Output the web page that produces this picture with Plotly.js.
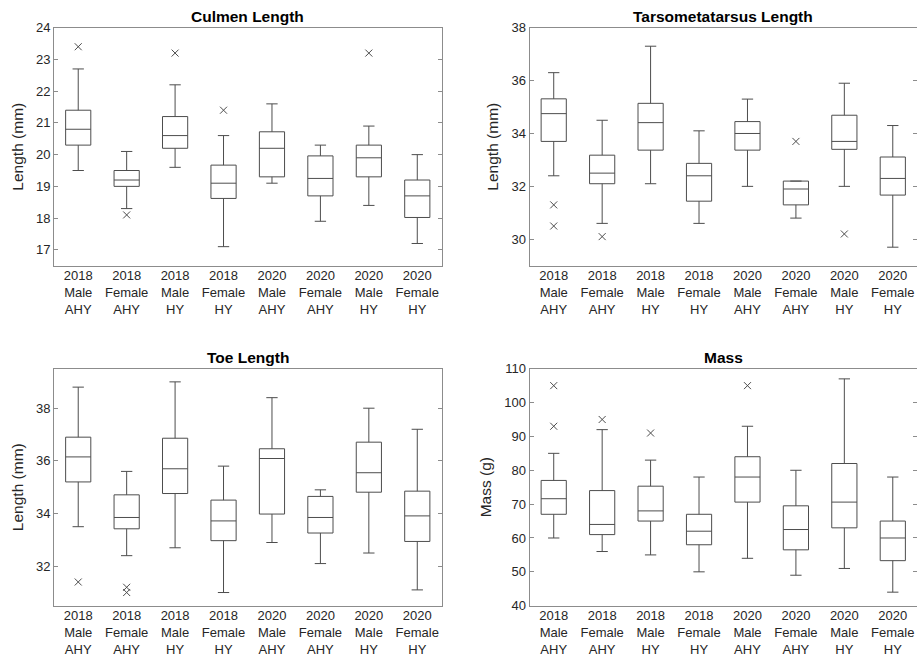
<!DOCTYPE html>
<html>
<head>
<meta charset="utf-8">
<script src="https://cdn.plot.ly/plotly-3.0.1.min.js"></script>
<style>html,body{margin:0;padding:0;background:#fff;}#chart{width:917px;height:657px;}</style>
</head>
<body>
<div id="chart"></div>
<script>
// Category labels (year / sex / age class)
const categories = [
  "2018<br>Male<br>AHY", "2018<br>Female<br>AHY", "2018<br>Male<br>HY", "2018<br>Female<br>HY",
  "2020<br>Male<br>AHY", "2020<br>Female<br>AHY", "2020<br>Male<br>HY", "2020<br>Female<br>HY"
];

// Culmen length (mm)
const culmenLower  = [19.5, 18.3, 19.6, 17.1, 19.1, 17.9, 18.4, 17.2];
const culmenQ1     = [20.3, 19.0, 20.2, 18.62, 19.3, 18.7, 19.3, 18.02];
const culmenMedian = [20.8, 19.2, 20.6, 19.1, 20.2, 19.25, 19.9, 18.7];
const culmenQ3     = [21.4, 19.5, 21.2, 19.67, 20.72, 19.96, 20.3, 19.2];
const culmenUpper  = [22.7, 20.1, 22.2, 20.6, 21.6, 20.3, 20.9, 20.0];
const culmenOutX   = [0, 1, 2, 3, 6];
const culmenOutY   = [23.4, 18.1, 23.2, 21.4, 23.2];

// Tarsometatarsus length (mm)
const tarsoLower  = [32.4, 30.6, 32.1, 30.6, 32.0, 30.8, 32.0, 29.7];
const tarsoQ1     = [33.7, 32.1, 33.37, 31.44, 33.37, 31.3, 33.4, 31.67];
const tarsoMedian = [34.75, 32.5, 34.41, 32.4, 34.0, 31.9, 33.7, 32.3];
const tarsoQ3     = [35.31, 33.18, 35.14, 32.87, 34.45, 32.2, 34.69, 33.11];
const tarsoUpper  = [36.3, 34.5, 37.3, 34.1, 35.3, 32.2, 35.9, 34.3];
const tarsoOutX   = [0, 0, 1, 5, 6];
const tarsoOutY   = [31.3, 30.5, 30.1, 33.7, 30.2];

// Toe length (mm)
const toeLower  = [33.5, 32.4, 32.7, 31.0, 32.9, 32.1, 32.5, 31.1];
const toeQ1     = [35.2, 33.42, 34.76, 32.97, 33.98, 33.26, 34.81, 32.94];
const toeMedian = [36.15, 33.85, 35.7, 33.72, 36.09, 33.85, 35.55, 33.91];
const toeQ3     = [36.9, 34.71, 36.86, 34.51, 36.46, 34.65, 36.71, 34.85];
const toeUpper  = [38.8, 35.6, 39.0, 35.8, 38.4, 34.9, 38.0, 37.2];
const toeOutX   = [0, 1, 1];
const toeOutY   = [31.4, 31.2, 31.0];

// Mass (g)
const massLower  = [60, 56, 55, 50, 54, 49, 51, 44];
const massQ1     = [67, 61, 65, 58, 70.6, 56.5, 63, 53.3];
const massMedian = [71.6, 64, 68, 62, 78, 62.5, 70.6, 60];
const massQ3     = [77, 74, 75.3, 67, 84, 69.5, 82, 65];
const massUpper  = [85, 92, 83, 78, 93, 80, 107, 78];
const massOutX   = [0, 0, 1, 2, 4];
const massOutY   = [105, 93, 95, 91, 105];

const panels = [
  {title: "Culmen Length", ytitle: "Length (mm)", lo: culmenLower, q1: culmenQ1, med: culmenMedian, q3: culmenQ3, hi: culmenUpper, ox: culmenOutX, oy: culmenOutY},
  {title: "Tarsometatarsus Length", ytitle: "Length (mm)", lo: tarsoLower, q1: tarsoQ1, med: tarsoMedian, q3: tarsoQ3, hi: tarsoUpper, ox: tarsoOutX, oy: tarsoOutY},
  {title: "Toe Length", ytitle: "Length (mm)", lo: toeLower, q1: toeQ1, med: toeMedian, q3: toeQ3, hi: toeUpper, ox: toeOutX, oy: toeOutY},
  {title: "Mass", ytitle: "Mass (g)", lo: massLower, q1: massQ1, med: massMedian, q3: massQ3, hi: massUpper, ox: massOutX, oy: massOutY}
];

const W = 917, H = 657;
// pixel boxes of each plot area [x0, x1, y0(top), y1(bottom)]
const boxes = [
  [54, 441.5, 27.7, 265.7],
  [529.5, 917, 27.7, 265.7],
  [54, 441.5, 368.7, 605.7],
  [529.5, 917, 368.7, 605.7]
];
const titleCenters = [247.7, 723.3, 247.7, 723.3];
const yRanges = [[16.5, 24], [29, 38], [30.5, 39.5], [40, 110]];
const yTicks = [[17,18,19,20,21,22,23,24],[30,32,34,36,38],[32,34,36,38],[40,50,60,70,80,90,100,110]];

const boxColor = "#4d4d4d";
const axisColor = "#8c8c8c";
const fontFam = "Liberation Sans, Arial, sans-serif";

const traces = [];
const layout = {
  width: W, height: H,
  margin: {l: 0, r: 0, t: 0, b: 0},
  paper_bgcolor: "#ffffff", plot_bgcolor: "#ffffff",
  showlegend: false,
  font: {family: fontFam, size: 13, color: "#262626"},
  annotations: []
};

panels.forEach((p, i) => {
  const n = i + 1;
  const xa = "x" + (n === 1 ? "" : n), ya = "y" + (n === 1 ? "" : n);
  const xk = "xaxis" + (n === 1 ? "" : n), yk = "yaxis" + (n === 1 ? "" : n);
  const b = boxes[i];
  traces.push({
    type: "box", xaxis: xa, yaxis: ya,
    x: categories,
    lowerfence: p.lo, q1: p.q1, median: p.med, q3: p.q3, upperfence: p.hi,
    width: 0.52, whiskerwidth: 0.45,
    fillcolor: "rgba(0,0,0,0)",
    line: {color: boxColor, width: 1},
    hoverinfo: "skip"
  });
  traces.push({
    type: "scatter", mode: "markers", xaxis: xa, yaxis: ya,
    x: p.ox.map(k => categories[k]), y: p.oy,
    marker: {symbol: "x-thin-open", size: 7, color: boxColor, line: {color: boxColor, width: 1}},
    hoverinfo: "skip"
  });
  layout[xk] = {
    domain: [b[0] / W, b[1] / W],
    anchor: ya,
    type: "category",
    categoryorder: "array", categoryarray: categories,
    range: [-0.5, 7.5],
    showline: true, linecolor: axisColor, linewidth: 1, mirror: true,
    ticks: "", showgrid: false, zeroline: false,
    ticklabelstandoff: -2,
    tickfont: {family: fontFam, size: 13, color: "#262626"},
    fixedrange: true
  };
  layout[yk] = {
    domain: [1 - b[3] / H, 1 - b[2] / H],
    anchor: xa,
    range: yRanges[i],
    tickvals: yTicks[i],
    showline: true, linecolor: axisColor, linewidth: 1, mirror: "ticks",
    ticks: "inside", ticklen: 4, tickcolor: axisColor,
    showgrid: false, zeroline: false,
    tickfont: {family: fontFam, size: 13, color: "#262626"},
    title: {text: p.ytitle, font: {family: fontFam, size: 15.5, color: "#262626"}, standoff: 8},
    fixedrange: true
  };
  layout.annotations.push({
    text: "<b>" + p.title + "</b>",
    xref: "paper", yref: "paper",
    x: titleCenters[i] / W,
    y: 1 - (b[2] - 11) / H,
    xanchor: "center", yanchor: "middle",
    showarrow: false,
    font: {family: fontFam, size: 15.5, color: "#000000"}
  });
});

Plotly.newPlot("chart", traces, layout, {displayModeBar: false, staticPlot: true});
</script>
</body>
</html>
